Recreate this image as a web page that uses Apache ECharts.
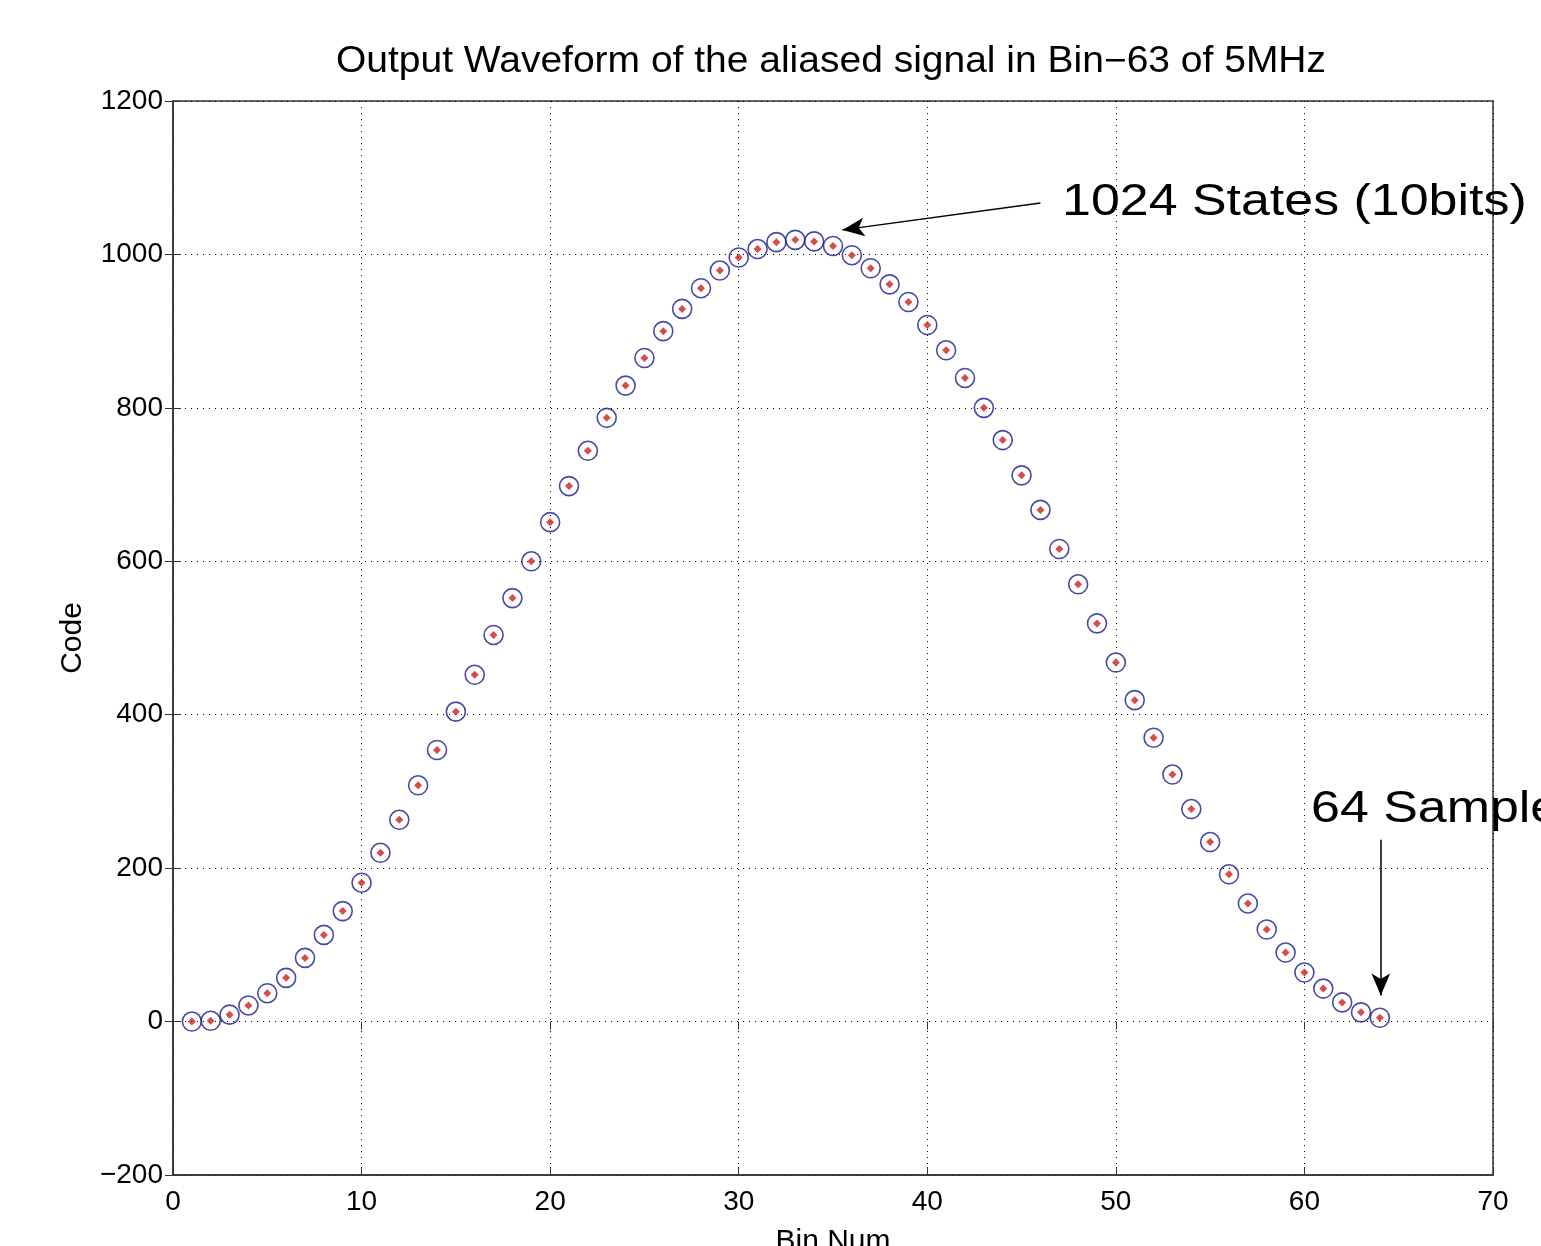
<!DOCTYPE html>
<html>
<head>
<meta charset="utf-8">
<script src="https://cdn.jsdelivr.net/npm/echarts@6/dist/echarts.min.js"></script>
<style>
  html, body { margin: 0; padding: 0; background: #fff; }
  #main { width: 1541px; height: 1246px; }
</style>
</head>
<body>
<div id="main"></div>
<script type="text/javascript">
// sample index (Bin Num) and output code
var binNum = [1,2,3,4,5,6,7,8,9,10,11,12,13,14,15,16,17,18,19,20,21,22,23,24,25,26,27,28,29,30,31,32,
              33,34,35,36,37,38,39,40,41,42,43,44,45,46,47,48,49,50,51,52,53,54,55,56,57,58,59,60,61,62,63,64];
var code = [0,1,9,21,37,57,83,113,144,181,220,263,308,354,404,452,504,552,600,651,698,744,787,829,865,900,929,956,979,996,1007,1016,
            1019,1017,1011,999,982,961,938,908,875,839,800,758,712,667,616,570,519,468,419,370,322,277,234,192,154,120,90,64,43,25,12,5];
var xTicks = [0,10,20,30,40,50,60,70];
var yTicks = [-200,0,200,400,600,800,1000,1200];

var pts = binNum.map(function (b, i) { return [b, code[i]]; });

var font = 'Liberation Sans, Arial, Helvetica, sans-serif';
var myChart = echarts.init(document.getElementById('main'));

var gridDot = { show: true, lineStyle: { color: '#000', width: 1, type: [1, 5] } };
var tickIn = { show: true, inside: true, length: 8, lineStyle: { color: '#333' } };

option = {
    backgroundColor: '#fff',
    animation: false,
    grid: {
        left: 173, right: 48, top: 101, bottom: 71,
        show: true, borderColor: '#333', borderWidth: 1.5,
        outerBoundsMode: 'none', containLabel: false
    },
    xAxis: [{
        type: 'value', min: xTicks[0], max: xTicks[xTicks.length - 1], interval: 10,
        name: 'Bin Num', nameLocation: 'middle', nameGap: 52,
        nameTextStyle: { fontFamily: font, fontSize: 30, color: '#000' },
        axisLine: { show: true, onZero: false, lineStyle: { color: '#333', width: 1.5 } },
        axisTick: tickIn,
        axisLabel: { fontFamily: font, fontSize: 28, color: '#000', margin: 13 },
        splitLine: gridDot
    }, {
        type: 'value', min: xTicks[0], max: xTicks[xTicks.length - 1], interval: 10, position: 'top',
        axisLine: { show: false }, axisLabel: { show: false }, splitLine: { show: false },
        axisTick: tickIn
    }],
    yAxis: [{
        type: 'value', min: yTicks[0], max: yTicks[yTicks.length - 1], interval: 200,
        name: 'Code', nameLocation: 'middle', nameGap: 85, nameRotate: 90,
        nameTextStyle: { fontFamily: font, fontSize: 30, color: '#000' },
        axisLine: { show: true, onZero: false, lineStyle: { color: '#333', width: 1.5 } },
        axisTick: tickIn,
        axisLabel: {
            fontFamily: font, fontSize: 28, color: '#000', margin: 10,
            formatter: function (v) { return v < 0 ? '\u2212' + Math.abs(v) : String(v); }
        },
        splitLine: gridDot
    }, {
        type: 'value', min: yTicks[0], max: yTicks[yTicks.length - 1], interval: 200, position: 'right',
        axisLine: { show: false }, axisLabel: { show: false }, splitLine: { show: false },
        axisTick: tickIn
    }],
    series: [
        {
            name: 'circles',
            type: 'scatter',
            data: pts,
            symbol: 'circle',
            symbolSize: 19,
            itemStyle: { color: 'rgba(0,0,0,0)', borderColor: '#1c1c8c', borderWidth: 1.6 },
            markLine: {
                silent: true,
                symbol: ['none', 'arrow'],
                symbolSize: [14, 22],
                label: { show: false },
                lineStyle: { color: '#000', width: 1.5, type: 'solid' },
                data: [
                    [{ coord: [46.0, 1067] }, { coord: [35.5, 1032] }],
                    [{ coord: [64.05, 237] }, { coord: [64.05, 34] }]
                ]
            }
        },
        {
            name: 'dots',
            type: 'scatter',
            data: pts,
            symbol: 'diamond',
            symbolSize: 8,
            itemStyle: { color: '#cc2020' },
            z: 3
        }
    ],
    graphic: [
        { type: 'text', x: 336, y: 44, scaleX: 1.083,
          style: { text: 'Output Waveform of the aliased signal in Bin\u221263 of 5MHz',
                   font: '36px ' + font, fill: '#000', verticalAlign: 'top' } },
        { type: 'text', x: 1062, y: 181, scaleX: 1.18,
          style: { text: '1024 States (10bits)', font: '44px ' + font, fill: '#000', verticalAlign: 'top' } },
        { type: 'text', x: 1311, y: 788, scaleX: 1.18,
          style: { text: '64 Samples', font: '44px ' + font, fill: '#000', verticalAlign: 'top' } }
    ]
};

myChart.setOption(option);
</script>
</body>
</html>
